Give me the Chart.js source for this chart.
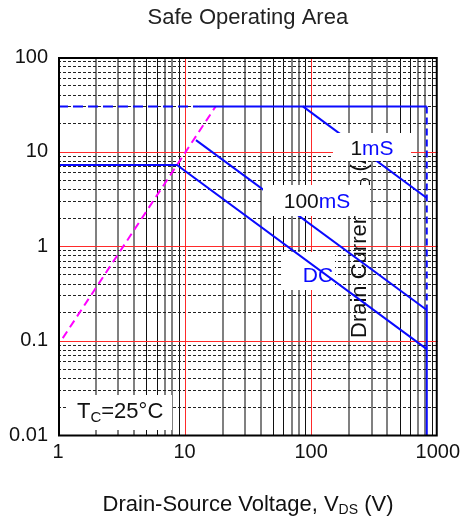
<!DOCTYPE html>
<html><head><meta charset="utf-8">
<script src="https://cdn.jsdelivr.net/npm/chart.js@4/dist/chart.umd.min.js"></script>
<style>html,body{margin:0;padding:0;background:#fff}#wrap{width:465px;height:521px;position:relative}</style>
</head><body><div id="wrap"><canvas id="c"></canvas></div>
<script>
// ---- axis ticks ----
const xTickLabels = [1, 10, 100, 1000];
const yTickLabels = [0.01, 0.1, 1, 10, 100];
const minorSteps = [2, 3, 4, 5, 6, 7, 8, 9];
const xDarkSteps = [5, 6, 9];
const xRedLines = [10, 100];
const yRedLines = [0.1, 1, 10];

// ---- SOA curves (V, A) ----
const topDashV = [1, 12.9];      const topDashI = [30, 30];
const topSolidV = [12.9, 819];   const topSolidI = [30, 30];
const edgeDashV = [819, 819];    const edgeDashI = [30, 0.21];
const edgeSolidV = [819, 819];   const edgeSolidI = [0.21, 0.01];
const ms1V = [86, 819];          const ms1I = [30, 3.22];
const ms100V = [12.3, 819];      const ms100I = [13.2, 0.21];
const dcV = [1, 8.7, 819];       const dcI = [7.2, 7.2, 0.081];
const rdsV = [1.09, 17.6];       const rdsI = [0.106, 30];

const BLUE = '#0a0aff';
const FONT = 'Liberation Sans, Arial, sans-serif';
const seg = (vs, is) => vs.map((v, i) => ({x: v, y: is[i]}));
const line = (vs, is, color, dash) => ({
  data: seg(vs, is), showLine: true, borderColor: color, borderWidth: 2,
  borderDash: dash || [], pointRadius: 0, fill: false, tension: 0
});

function rich(ctx, parts, x, y, align) {
  let w = 0;
  for (const p of parts) { ctx.font = p.size + 'px ' + FONT; w += ctx.measureText(p.t).width; }
  let cx = align === 'center' ? x - w / 2 : x;
  ctx.textAlign = 'left'; ctx.textBaseline = 'alphabetic';
  for (const p of parts) {
    ctx.font = p.size + 'px ' + FONT;
    ctx.fillStyle = p.color || '#111';
    ctx.fillText(p.t, cx, y + (p.dy || 0));
    cx += ctx.measureText(p.t).width;
  }
}

const decor = {
  id: 'decor',
  beforeDatasetsDraw(chart) {
    const {ctx, chartArea: a, scales: {x, y}} = chart;
    ctx.save();
    for (const d of xTickLabels.slice(0, -1)) {
      for (const m of minorSteps) {
        const px = Math.round(x.getPixelForValue(d * m));
        const dark = xDarkSteps.includes(m);
        ctx.beginPath();
        ctx.strokeStyle = dark ? '#111' : '#808080';
        ctx.lineWidth = dark ? 1 : 2;
        const o = dark ? 0.5 : 0;
        ctx.moveTo(px + o, a.top); ctx.lineTo(px + o, a.bottom); ctx.stroke();
      }
    }
    ctx.setLineDash([3, 2]);
    ctx.strokeStyle = '#222'; ctx.lineWidth = 1;
    for (const d of yTickLabels.slice(0, -1)) for (const m of minorSteps) {
      const py = Math.round(y.getPixelForValue(d * m)) + 0.5;
      ctx.beginPath(); ctx.moveTo(a.left, py); ctx.lineTo(a.right, py); ctx.stroke();
    }
    ctx.setLineDash([]);
    ctx.strokeStyle = '#ff2a2a'; ctx.lineWidth = 1;
    for (const v of xRedLines) {
      const px = Math.round(x.getPixelForValue(v)) + 0.5;
      ctx.beginPath(); ctx.moveTo(px, a.top); ctx.lineTo(px, a.bottom); ctx.stroke();
    }
    for (const v of yRedLines) {
      const py = Math.round(y.getPixelForValue(v)) + 0.5;
      ctx.beginPath(); ctx.moveTo(a.left, py); ctx.lineTo(a.right, py); ctx.stroke();
    }
    ctx.fillStyle = '#fff';
    ctx.fillRect(282, 252, 53, 38);
    ctx.fillRect(68, 395, 104, 35);
    // misplaced axis title, rotated
    ctx.save();
    ctx.translate(366, 338);
    ctx.rotate(-Math.PI / 2);
    rich(ctx, [{t: 'Drain Current, I', size: 22}, {t: 'D', size: 14, dy: 4}, {t: ' (A)', size: 22}], 0, 0, 'left');
    ctx.restore();
    ctx.restore();
  },
  afterDatasetsDraw(chart) {
    const {ctx, chartArea: a} = chart;
    ctx.save();
    ctx.fillStyle = '#fff';
    ctx.fillRect(333, 133, 78, 28);
    ctx.fillRect(263, 185, 107, 31);
    rich(ctx, [{t: '1', size: 21}, {t: 'mS', size: 21, color: BLUE}], 372, 155, 'center');
    rich(ctx, [{t: '100', size: 21}, {t: 'mS', size: 21, color: BLUE}], 317, 208, 'center');
    rich(ctx, [{t: 'DC', size: 21, color: BLUE}], 318, 282, 'center');
    rich(ctx, [{t: 'T', size: 22}, {t: 'C', size: 15, dy: 4}, {t: '=25°C', size: 22}], 77, 418, 'left');
    ctx.strokeStyle = '#000'; ctx.lineWidth = 2;
    ctx.strokeRect(a.left + 1, a.top + 1, a.right - a.left - 2, a.bottom - a.top - 0.5);
    rich(ctx, [{t: 'Safe Operating Area', size: 22, color: '#222'}], (a.left + a.right) / 2, 24, 'center');
    rich(ctx, [{t: 'Drain-Source Voltage, V', size: 22}, {t: 'DS', size: 14, dy: 3}, {t: ' (V)', size: 22}], 248, 511, 'center');
    ctx.restore();
  }
};

new Chart(document.getElementById('c'), {
  type: 'scatter',
  data: {
    datasets: [
      line(topDashV, topDashI, BLUE, [10, 5]),
      line(topSolidV, topSolidI, BLUE),
      line(edgeDashV, edgeDashI, BLUE, [7, 4]),
      line(edgeSolidV, edgeSolidI, BLUE),
      line(ms1V, ms1I, BLUE),
      line(ms100V, ms100I, BLUE),
      line(dcV, dcI, BLUE),
      line(rdsV, rdsI, '#ff00ff', [8, 5])
    ]
  },
  options: {
    responsive: true, maintainAspectRatio: false, animation: false,
    layout: {padding: {top: 57, right: 24, left: 0, bottom: 0}},
    plugins: {legend: {display: false}, tooltip: {enabled: false}, title: {display: false}},
    scales: {
      x: {
        type: 'logarithmic', min: 1, max: 1000,
        grid: {display: false, drawTicks: false}, border: {display: false},
        afterBuildTicks: s => { s.ticks = xTickLabels.map(v => ({value: v})); },
        afterFit: s => { s.height = 86; },
        ticks: {autoSkip: false, maxRotation: 0, padding: 5, color: '#111',
          font: {family: FONT, size: 20}, callback: v => String(v)}
      },
      y: {
        type: 'logarithmic', min: 0.01, max: 100,
        grid: {display: false, drawTicks: false}, border: {display: false},
        afterBuildTicks: s => { s.ticks = yTickLabels.map(v => ({value: v})); },
        afterFit: s => { s.width = 58; },
        ticks: {autoSkip: false, padding: 10, color: '#111',
          font: {family: FONT, size: 20}, callback: v => String(v)}
      }
    }
  },
  plugins: [decor]
});
</script></body></html>
